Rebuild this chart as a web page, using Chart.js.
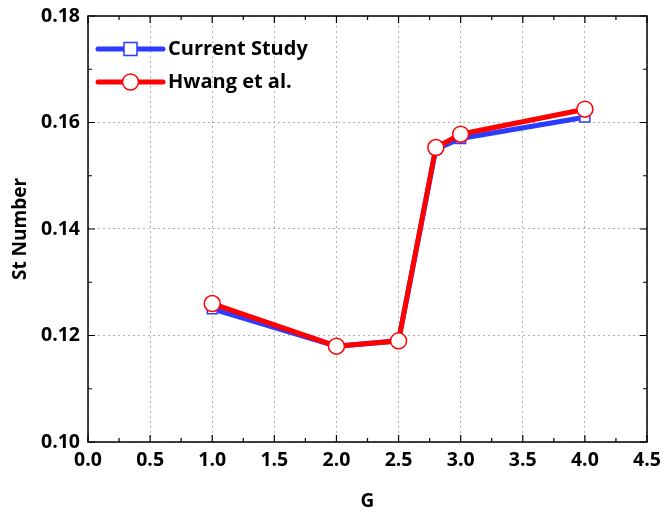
<!DOCTYPE html>
<html>
<head>
<meta charset="utf-8">
<script src="https://cdn.jsdelivr.net/npm/chart.js@4.4.1/dist/chart.umd.min.js"></script>
<style>
  html, body { margin: 0; padding: 0; background: #fff; }
  #wrap { width: 662px; height: 516px; }
</style>
</head>
<body>
<div id="wrap"><canvas id="grafico" width="662" height="516"></canvas></div>
<script>
const valoresG = [1.0, 2.0, 2.5, 2.8, 3.0, 4.0];
const estudoAtual = [0.125, 0.118, 0.119, 0.155, 0.157, 0.161];
const hwang = [0.126, 0.118, 0.119, 0.1553, 0.1578, 0.1625];
const nomesSeries = ["Current Study", "Hwang et al."];

const fonte = "'Open Sans', 'DejaVu Sans', sans-serif";
const azul = "#2a3cff";
const vermelho = "#ff0000";

function pontos(ys) {
  return valoresG.map((g, i) => ({ x: g, y: ys[i] }));
}

// moldura, ticks para dentro e legenda dentro da área
const moldura = {
  id: "moldura",
  afterDraw(chart) {
    const ctx = chart.ctx;
    const a = chart.chartArea;
    const sx = chart.scales.x;
    const sy = chart.scales.y;
    ctx.save();
    ctx.strokeStyle = "#000";
    ctx.lineWidth = 1.5;
    ctx.strokeRect(a.left, a.top, a.right - a.left, a.bottom - a.top);

    ctx.lineWidth = 1.2;
    for (let v = 0; v <= 4.5001; v += 0.25) {
      const x = sx.getPixelForValue(v);
      const len = Math.abs(v / 0.5 - Math.round(v / 0.5)) < 1e-6 ? 7 : 4;
      ctx.beginPath();
      ctx.moveTo(x, a.bottom); ctx.lineTo(x, a.bottom - len);
      ctx.moveTo(x, a.top); ctx.lineTo(x, a.top + len);
      ctx.stroke();
    }
    for (let k = 0; k <= 8; k++) {
      const y = sy.getPixelForValue(0.10 + k * 0.01);
      const len = k % 2 === 0 ? 7 : 4;
      ctx.beginPath();
      ctx.moveTo(a.left, y); ctx.lineTo(a.left + len, y);
      ctx.moveTo(a.right, y); ctx.lineTo(a.right - len, y);
      ctx.stroke();
    }

    // legenda
    const itens = [chart.data.datasets[0], chart.data.datasets[1]];
    itens.forEach((ds, i) => {
      const y = a.top + 33 + i * 33;
      const x0 = a.left + 10;
      const x1 = a.left + 75;
      const xm = (x0 + x1) / 2;
      ctx.strokeStyle = ds.borderColor;
      ctx.lineWidth = 5;
      ctx.lineCap = "round";
      ctx.beginPath(); ctx.moveTo(x0, y); ctx.lineTo(x1, y); ctx.stroke();
      ctx.fillStyle = "#fff";
      ctx.lineWidth = 1.5;
      ctx.beginPath();
      if (ds.pointStyle === "rect") {
        ctx.rect(xm - 6.5, y - 6.5, 13, 13);
      } else {
        ctx.arc(xm, y, 8, 0, Math.PI * 2);
      }
      ctx.fill(); ctx.stroke();
      ctx.fillStyle = "#000";
      ctx.font = "bold 20px " + fonte;
      ctx.textBaseline = "middle";
      ctx.textAlign = "left";
      ctx.fillText(ds.label, x1 + 5, y);
    });
    ctx.restore();
  }
};

const ctx = document.getElementById("grafico");

new Chart(ctx, {
  type: "line",
  data: {
    datasets: [
      {
        label: nomesSeries[0],
        data: pontos(estudoAtual),
        borderColor: azul,
        backgroundColor: "#fff",
        borderWidth: 5,
        pointStyle: "rect",
        pointRadius: 7,
        pointBorderWidth: 1.5,
        pointBorderColor: azul,
        pointBackgroundColor: "#fff",
        order: 2
      },
      {
        label: nomesSeries[1],
        data: pontos(hwang),
        borderColor: vermelho,
        backgroundColor: "#fff",
        borderWidth: 5,
        pointStyle: "circle",
        pointRadius: 8,
        pointBorderWidth: 1.5,
        pointBorderColor: vermelho,
        pointBackgroundColor: "#fff",
        order: 1
      }
    ]
  },
  options: {
    responsive: false,
    animation: false,
    clip: false,
    layout: { padding: { top: 16, right: 15, left: 0, bottom: 0 } },
    plugins: {
      legend: { display: false },
      tooltip: { enabled: false }
    },
    scales: {
      x: {
        type: "linear",
        min: 0,
        max: 4.5,
        afterFit(s) { s.height = 74; s.paddingLeft = 0; s.paddingRight = 0; },
        ticks: {
          stepSize: 0.5,
          padding: 7,
          color: "#000",
          maxRotation: 0,
          font: { family: fonte, size: 19.5, weight: "bold" },
          callback: v => v.toFixed(1)
        },
        grid: { color: "#b0b0b0", lineWidth: 1, drawTicks: false },
        border: { display: false, dash: [2, 3] },
        title: {
          display: true,
          text: "G",
          color: "#000",
          font: { family: fonte, size: 19, weight: "bold" },
          padding: { top: 0, bottom: 3 }
        }
      },
      y: {
        min: 0.10,
        max: 0.18,
        afterFit(s) { s.width = 88; s.paddingTop = 0; s.paddingBottom = 0; },
        ticks: {
          stepSize: 0.02,
          padding: 8,
          color: "#000",
          font: { family: fonte, size: 19.5, weight: "bold" },
          callback: v => v.toFixed(2)
        },
        grid: { color: "#b0b0b0", lineWidth: 1, drawTicks: false },
        border: { display: false, dash: [2, 3] },
        title: {
          display: true,
          text: "St Number",
          color: "#000",
          font: { family: fonte, size: 19, weight: "bold" },
          padding: { top: 9, bottom: 0 }
        }
      }
    }
  },
  plugins: [moldura]
});
</script>
</body>
</html>
